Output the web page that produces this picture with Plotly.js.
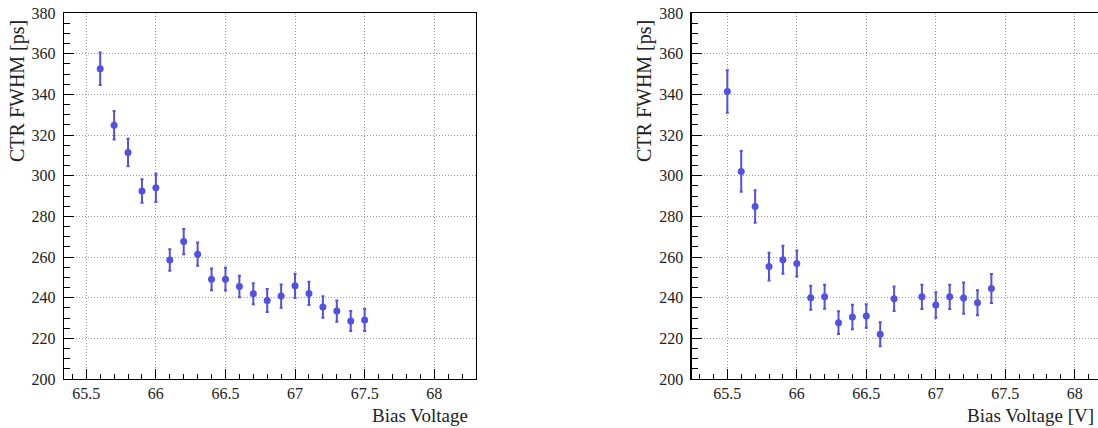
<!DOCTYPE html>
<html>
<head>
<meta charset="utf-8">
<script src="https://cdn.plot.ly/plotly-3.0.1.min.js"></script>
<style>html,body{margin:0;padding:0;background:#fff}#chart{width:1098px;height:428px}</style>
</head>
<body>
<div id="chart"></div>
<script>
// Left panel data
const biasLeft = [65.6, 65.7, 65.8, 65.9, 66.0, 66.1, 66.2, 66.3, 66.4, 66.5, 66.6, 66.7, 66.8, 66.9, 67.0, 67.1, 67.2, 67.3, 67.4, 67.5];
const ctrLeft  = [352.6, 324.8, 311.4, 292.5, 294.0, 258.5, 267.6, 261.4, 249.0, 249.1, 245.5, 241.9, 238.6, 240.8, 245.8, 242.1, 235.4, 233.4, 228.5, 229.0];
const errLeft  = [8.0, 7.0, 6.8, 5.8, 7.0, 5.3, 6.2, 5.7, 5.3, 5.6, 5.3, 5.2, 5.6, 5.7, 6.0, 5.7, 5.3, 5.2, 4.9, 5.4];

// Right panel data
const biasRight = [65.5, 65.6, 65.7, 65.8, 65.9, 66.0, 66.1, 66.2, 66.3, 66.4, 66.5, 66.6, 66.7, 66.9, 67.0, 67.1, 67.2, 67.3, 67.4];
const ctrRight  = [341.4, 302.1, 284.8, 255.3, 258.6, 256.8, 239.9, 240.5, 227.7, 230.5, 231.0, 222.0, 239.5, 240.4, 236.4, 240.4, 239.8, 237.5, 244.5];
const errRight  = [10.5, 10.0, 8.0, 6.8, 6.9, 6.4, 5.9, 5.9, 5.6, 6.0, 5.8, 5.9, 6.0, 6.0, 6.3, 6.0, 7.7, 6.2, 7.1];

const xTicks = [65.5, 66, 66.5, 67, 67.5, 68];
const xTickText = ['65.5', '66', '66.5', '67', '67.5', '68'];
const yTicks = [200, 220, 240, 260, 280, 300, 320, 340, 360, 380];

const yTitle = 'CTR FWHM [ps]';
const xTitleLeft = 'Bias Voltage';
const xTitleRight = 'Bias Voltage [V]';

const blue = 'rgb(82,82,226)';
const font = 'Liberation Serif';

function trace(x, y, e, xa, ya) {
  return {
    type: 'scatter', mode: 'markers', x: x, y: y, xaxis: xa, yaxis: ya,
    marker: {color: blue, size: 7},
    error_y: {type: 'data', array: e, visible: true, color: blue, thickness: 2, width: 1.5},
    showlegend: false, hoverinfo: 'skip'
  };
}

function xax(domain, range, mirror) {
  return {
    domain: domain, range: range,
    tickmode: 'array', tickvals: xTicks, ticktext: xTickText,
    ticks: 'inside', ticklen: 10, tickwidth: 1, tickcolor: '#000',
    minor: {dtick: 0.1, tick0: 65.5, ticks: 'inside', ticklen: 5, tickwidth: 1, tickcolor: '#000', showgrid: false},
    showline: true, linecolor: '#000', linewidth: 1.3, mirror: mirror,
    showgrid: true, gridcolor: '#999', griddash: '1px,2px', gridwidth: 1,
    zeroline: false, tickfont: {family: font, size: 16, color: '#222'}
  };
}
function yax(domain, mirror) {
  return {
    domain: domain, range: [200, 380],
    tickmode: 'array', tickvals: yTicks,
    ticks: 'inside', ticklen: 10, tickwidth: 1, tickcolor: '#000',
    minor: {dtick: 5, tick0: 200, ticks: 'inside', ticklen: 6, tickwidth: 1, tickcolor: '#000', showgrid: false},
    showline: true, linecolor: '#000', linewidth: 1.3, mirror: mirror,
    showgrid: true, gridcolor: '#999', griddash: '1px,2px', gridwidth: 1,
    zeroline: false, tickfont: {family: font, size: 16, color: '#222'},
    ticklabelstandoff: 4
  };
}

const ydom = [0.1145, 0.9696];
const x1 = xax([0.0583, 0.4335], [65.34, 68.30], true); x1.anchor = 'y';
const y1 = yax(ydom, true); y1.anchor = 'x';
const x2 = xax([0.630, 1.0], [65.244, 68.167], true); x2.anchor = 'y2';
const y2 = yax(ydom, false); y2.anchor = 'x2';

const layout = {
  width: 1098, height: 428,
  margin: {l: 0, r: 0, t: 0, b: 0},
  paper_bgcolor: '#fff', plot_bgcolor: '#fff',
  font: {family: font, color: '#222'},
  xaxis: x1, yaxis: y1, xaxis2: x2, yaxis2: y2,
  annotations: [
    {xref: 'paper', yref: 'paper', x: 18/1098, y: 1 - 18/428, text: yTitle, textangle: -90,
     xanchor: 'center', yanchor: 'top', showarrow: false, font: {family: font, size: 20, color: '#222'}},
    {xref: 'paper', yref: 'paper', x: 645/1098, y: 1 - 18/428, text: yTitle, textangle: -90,
     xanchor: 'center', yanchor: 'top', showarrow: false, font: {family: font, size: 20, color: '#222'}},
    {xref: 'paper', yref: 'paper', x: 470/1098, y: 1 - 415/428, text: xTitleLeft,
     xanchor: 'right', yanchor: 'middle', showarrow: false, font: {family: font, size: 19, color: '#222'}},
    {xref: 'paper', yref: 'paper', x: 1096/1098, y: 1 - 415/428, text: xTitleRight,
     xanchor: 'right', yanchor: 'middle', showarrow: false, font: {family: font, size: 19, color: '#222'}}
  ]
};

Plotly.newPlot('chart', [
  trace(biasLeft, ctrLeft, errLeft, 'x', 'y'),
  trace(biasRight, ctrRight, errRight, 'x2', 'y2')
], layout, {staticPlot: true, displayModeBar: false});
</script>
</body>
</html>
